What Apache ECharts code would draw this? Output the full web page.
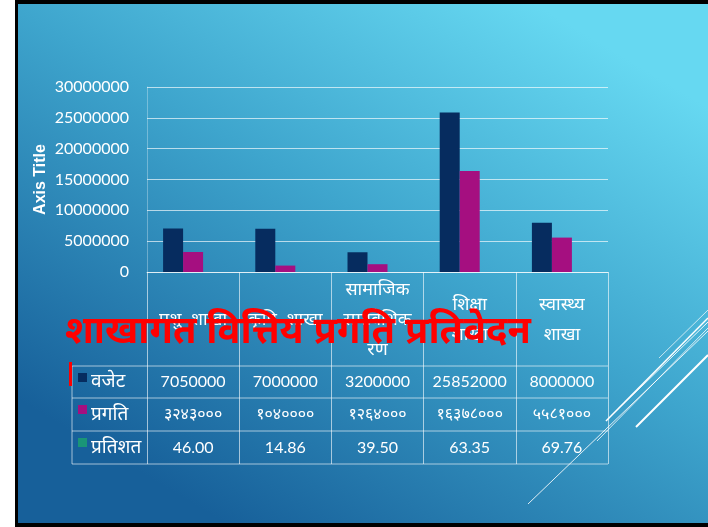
<!DOCTYPE html>
<html>
<head>
<meta charset="utf-8">
<script src="https://cdn.jsdelivr.net/npm/echarts@6/dist/echarts.min.js"></script>
<style>
html,body{margin:0;padding:0;background:#fff;}
#c{width:708px;height:527px;}
</style>
</head>
<body>
<div id="c"></div>
<script>
const categories = ['पशु  शाखा', 'कृषि  शाखा', 'सामाजिक\nसमावेशिक\nरण', 'शिक्षा\nशाखा', 'स्वास्थ्य\nशाखा'];
const seriesNames = ['वजेट', 'प्रगति', 'प्रतिशत'];
const budget = [7050000, 7000000, 3200000, 25852000, 8000000];
const progress = [3243000, 1040000, 1264000, 16378000, 5581000];
const percent = [46.00, 14.86, 39.50, 63.35, 69.76];
const yMin = 0, yMax = 30000000, yStep = 5000000;
const titleText = 'शाखागत वित्तिय प्रगति प्रतिवेदन';
const axisTitle = 'Axis Title';

const colors = ['#062c5f', '#a50f80', '#1a9577'];
const numFont = 'Lato, Roboto, sans-serif';
const devFont = '"Noto Sans", "Noto Sans Devanagari", Lato, sans-serif';

function toDeva(n) {
  const d = '०१२३४५६७८९';
  return String(n).replace(/[0-9]/g, c => d[+c]);
}

const chart = echarts.init(document.getElementById('c'), null, {renderer: 'canvas'});

const bgGraphics = [
  {type: 'rect', z: -10, silent: true, shape: {x: 15, y: 0, width: 693, height: 527}, style: {fill: '#000'}},
  {type: 'rect', z: -9, silent: true, shape: {x: 18, y: 4, width: 690, height: 519},
    style: {fill: new echarts.graphic.LinearGradient(0.75, 0, 0.3, 1, [
      {offset: 0, color: '#66d8f1'},
      {offset: 0.45, color: '#3ea5cd'},
      {offset: 1, color: '#17609a'}
    ])}},
  // decorative lines
  {type: 'line', silent: true, shape: {x1: 528, y1: 504, x2: 708, y2: 331}, style: {stroke: 'rgba(255,255,255,0.85)', lineWidth: 1}},
  {type: 'line', silent: true, shape: {x1: 636, y1: 427, x2: 708, y2: 355}, style: {stroke: '#fff', lineWidth: 2}},
  {type: 'line', silent: true, shape: {x1: 606, y1: 421, x2: 708, y2: 318}, style: {stroke: '#fff', lineWidth: 1.5}},
  {type: 'line', silent: true, shape: {x1: 608, y1: 419, x2: 708, y2: 322}, style: {stroke: 'rgba(255,255,255,0.9)', lineWidth: 1}},
  {type: 'line', silent: true, shape: {x1: 597, y1: 441, x2: 708, y2: 328}, style: {stroke: 'rgba(255,255,255,0.8)', lineWidth: 1}},
  {type: 'line', silent: true, shape: {x1: 659, y1: 358, x2: 708, y2: 310}, style: {stroke: 'rgba(255,255,255,0.7)', lineWidth: 1}}
];

const option = {
  animation: false,
  backgroundColor: 'transparent',
  grid: {left: 147, right: 100, top: 87, bottom: 255},
  title: {
    text: titleText, left: 60, top: 308, z: 20,
    textStyle: {color: '#ff0000', fontSize: 38, fontWeight: 'bold', fontFamily: devFont}
  },
  xAxis: {
    type: 'category', data: categories,
    axisLine: {show: true, lineStyle: {color: 'rgba(255,255,255,0.6)', width: 1}},
    axisTick: {show: true, length: 192, lineStyle: {color: 'rgba(255,255,255,0.6)'}},
    axisLabel: {color: '#fff', fontSize: 18, fontFamily: devFont, margin: 48, verticalAlign: 'middle', lineHeight: 30, interval: 0}
  },
  yAxis: {
    type: 'value', min: yMin, max: yMax, interval: yStep,
    name: axisTitle, nameLocation: 'middle', nameGap: 98, nameRotate: 90, nameMoveOverlap: false,
    nameTextStyle: {color: '#fff', fontSize: 16, fontWeight: 'bold', fontFamily: 'Liberation Sans, Arial, sans-serif'},
    axisLine: {show: true, lineStyle: {color: 'rgba(255,255,255,0.3)'}},
    axisTick: {show: false},
    splitLine: {lineStyle: {color: 'rgba(255,255,255,0.65)', width: 1}},
    axisLabel: {color: '#fff', fontSize: 16, fontFamily: numFont, margin: 18, formatter: v => String(v)}
  },
  series: [
    {name: seriesNames[0], type: 'bar', data: budget, barWidth: 20, barGap: '0%', itemStyle: {color: colors[0]}},
    {name: seriesNames[1], type: 'bar', data: progress, barWidth: 20, barGap: '0%', itemStyle: {color: colors[1]}},
    {name: seriesNames[2], type: 'bar', data: percent, barWidth: 20, barGap: '0%', itemStyle: {color: colors[2]}}
  ],
  graphic: bgGraphics
};
chart.setOption(option);

// data table below the plot
const rowTops = [366, 398, 431, 464];
const tableLeft = 72, tableRight = 608;
const rows = [
  budget.map(v => String(v)),
  progress.map(v => toDeva(v)),
  percent.map(v => v.toFixed(2))
];
const tbl = [];
rowTops.forEach(y => tbl.push({type: 'line', silent: true, shape: {x1: tableLeft, y1: y, x2: tableRight, y2: y}, style: {stroke: 'rgba(255,255,255,0.6)', lineWidth: 1}}));
tbl.push({type: 'line', silent: true, shape: {x1: tableLeft, y1: rowTops[0], x2: tableLeft, y2: rowTops[3]}, style: {stroke: 'rgba(255,255,255,0.6)', lineWidth: 1}});
rows.forEach((vals, r) => {
  const cy = (rowTops[r] + rowTops[r + 1]) / 2;
  tbl.push({type: 'rect', silent: true, shape: {x: 78, y: rowTops[r] + 7, width: 9, height: 9}, style: {fill: colors[r]}});
  tbl.push({type: 'text', silent: true, x: 91, y: cy, style: {text: seriesNames[r], fill: '#fff', font: '19px ' + devFont, textVerticalAlign: 'middle', textAlign: 'left'}});
  vals.forEach((t, i) => {
    const px = chart.convertToPixel({xAxisIndex: 0}, i);
    tbl.push({type: 'text', silent: true, x: px, y: cy, style: {text: t, fill: '#fff', font: (r === 1 ? '16px ' + devFont : '16px ' + numFont), textAlign: 'center', textVerticalAlign: 'middle'}});
  });
});
// text cursor mark
tbl.push({type: 'rect', silent: true, z: 25, shape: {x: 69, y: 362, width: 3, height: 24}, style: {fill: '#ff0000'}});

chart.setOption({graphic: bgGraphics.concat(tbl)});
</script>
</body>
</html>
